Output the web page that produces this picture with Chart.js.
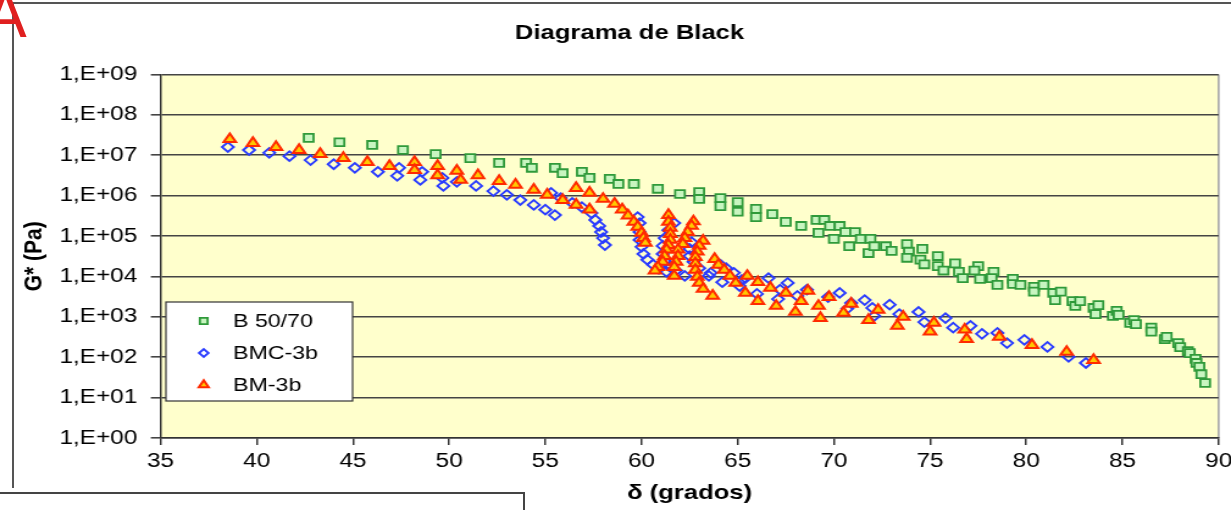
<!DOCTYPE html>
<html lang="es">
<head>
<meta charset="UTF-8">
<title>Diagrama de Black</title>
<script src="https://cdn.jsdelivr.net/npm/chart.js"></script>
<style>
    html, body { margin: 0; padding: 0; background: #fff; }
    body { width: 1231px; height: 510px; overflow: hidden; position: relative; }
    #blackChart { position: absolute; left: 0; top: 0; transform: scaleX(1.22); transform-origin: 0 0; }
    .frame-top { position: absolute; left: 12px; top: 2px; width: 1219px; height: 2px; background: #555; }
    .frame-left { position: absolute; left: 12px; top: 2px; width: 2px; height: 486px; background: #555; }
    .frame-box { position: absolute; left: -2px; top: 492px; width: 525px; height: 40px; border: 2px solid #444; border-left: none; }
    .mark-a { position: absolute; left: -16px; top: -17px; color: #e02020; font: 64px "Liberation Sans", Arial, sans-serif; line-height: 1; }
</style>
</head>
<body>
    <div class="frame-top"></div>
    <div class="frame-left"></div>
    <div class="frame-box"></div>
    <div class="mark-a">A</div>
    <canvas id="blackChart" width="1014" height="510"></canvas>

<script>
    // δ (grados) and G* (Pa)
    const b5070X = [42.7, 44.3, 46.0, 47.6, 49.3, 51.1, 52.6, 54.0, 54.3, 55.5,
        55.9, 56.9, 57.3, 58.35, 58.8, 59.6, 60.85, 62.0, 63.0, 63.0,
        64.1, 64.1, 65.0, 65.0, 65.95, 65.95, 66.8, 67.5, 68.3, 69.1,
        69.5, 69.2, 69.8, 70.3, 70.0, 70.6, 70.8, 71.1, 71.4, 71.8,
        71.9, 72.1, 72.7, 73.0, 73.8, 73.9, 73.8, 74.6, 74.5, 74.7,
        75.4, 75.4, 75.7, 76.3, 76.5, 76.7, 77.5, 77.3, 77.6, 78.3,
        78.2, 78.5, 79.3, 79.3, 79.7, 80.4, 80.4, 80.9, 81.4, 81.5,
        81.8, 82.4, 82.55, 82.8, 83.5, 83.75, 83.6, 84.5, 84.7, 84.8,
        85.4, 85.6, 85.7, 86.5, 86.5, 87.2, 87.3, 87.9, 88.0, 88.4,
        88.5, 88.8, 88.85, 89.0, 89.1, 89.3];
    const b5070G = [2.7e7, 2.1e7, 1.8e7, 1.35e7, 1.07e7, 8.5e6, 6.5e6, 6.5e6, 4.9e6, 4.9e6,
        3.6e6, 3.9e6, 2.75e6, 2.6e6, 1.95e6, 1.95e6, 1.48e6, 1.1e6, 1.23e6, 8.3e5,
        8.7e5, 5.5e5, 6.9e5, 4.0e5, 4.7e5, 2.95e5, 3.5e5, 2.24e5, 1.78e5, 2.5e5,
        2.5e5, 1.2e5, 1.78e5, 1.78e5, 8.5e4, 1.26e5, 5.6e4, 1.26e5, 8.5e4, 3.8e4,
        8.5e4, 5.6e4, 5.6e4, 4.3e4, 6.3e4, 4.1e4, 2.9e4, 4.8e4, 2.6e4, 2.0e4,
        3.2e4, 1.8e4, 1.4e4, 2.1e4, 1.3e4, 9.1e3, 1.8e4, 1.4e4, 8.7e3, 1.3e4,
        9.1e3, 6.2e3, 8.7e3, 6.5e3, 6.2e3, 5.5e3, 4.2e3, 6.2e3, 3.9e3, 2.6e3,
        4.2e3, 2.45e3, 1.86e3, 2.45e3, 1.66e3, 1.95e3, 1.17e3, 1.05e3, 1.41e3, 1.12e3,
        710, 830, 660, 540, 430, 280, 320, 224, 178, 141,
        126, 91, 72, 58, 38, 23];

    const bmcX = [38.5, 39.6, 40.65, 41.7, 42.8, 44.0, 45.1, 46.3, 47.4, 47.3,
        48.6, 48.5, 49.65, 49.7, 50.4, 51.4, 52.3, 53.0, 53.7, 54.4,
        55.0, 55.5, 55.3, 55.8, 56.4, 56.9, 57.4, 57.6, 57.8, 57.9,
        58.0, 58.1, 59.8, 59.9, 59.9, 59.9, 60.0, 60.1, 60.3, 60.6,
        60.9, 61.3, 61.7, 61.4, 61.2, 61.1, 61.1, 61.2, 61.5, 61.8,
        62.25, 62.6, 62.5, 62.5, 62.7, 63.0, 63.6, 64.1, 64.4, 64.8,
        65.2, 63.5, 64.2, 65.1, 65.4, 66.0, 66.6, 67.2, 67.6, 67.1,
        68.1, 68.6, 69.7, 70.3, 70.9, 70.7, 71.6, 72.0, 72.1, 72.9,
        73.4, 74.4, 74.7, 75.8, 76.2, 77.1, 77.7, 78.5, 79.0, 79.9,
        81.1, 82.2, 83.1];
    const bmcG = [1.6e7, 1.35e7, 1.15e7, 9.5e6, 7.6e6, 6.0e6, 4.9e6, 3.9e6, 4.9e6, 3.1e6,
        3.9e6, 2.45e6, 2.75e6, 1.74e6, 2.2e6, 1.74e6, 1.3e6, 1.05e6, 7.8e5, 5.9e5,
        4.5e5, 3.3e5, 1.17e6, 8.7e5, 6.6e5, 5.2e5, 3.7e5, 2.5e5, 1.78e5, 1.26e5,
        8.9e4, 6.0e4, 2.95e5, 2.1e5, 1.26e5, 8.0e4, 5.4e4, 3.6e4, 2.6e4, 1.95e4,
        1.55e4, 1.3e4, 2.1e5, 1.4e5, 8.9e4, 5.7e4, 3.6e4, 2.4e4, 1.7e4, 1.4e4,
        1.03e4, 7.1e4, 4.8e4, 3.2e4, 2.3e4, 1.6e4, 1.23e4, 1.95e4, 1.6e4, 1.23e4,
        8.1e3, 1.03e4, 7.2e3, 5.8e3, 9.1e3, 3.7e3, 9.1e3, 4.7e3, 6.9e3, 2.75e3,
        3.3e3, 4.7e3, 3.1e3, 3.9e3, 2.2e3, 1.6e3, 2.6e3, 1.66e3, 1.05e3, 2.0e3,
        1.17e3, 1.32e3, 740, 930, 540, 600, 380, 400, 224, 270,
        180, 102, 72];

    const bmX = [38.6, 39.8, 41.0, 42.2, 43.3, 44.5, 45.75, 46.9, 48.2, 48.2,
        49.4, 49.4, 50.4, 50.6, 51.5, 52.6, 53.45, 54.4, 55.1, 55.9,
        56.6, 57.3, 56.6, 57.3, 58.0, 58.6, 59.0, 59.3, 59.6, 59.8,
        60.0, 60.1, 60.2, 61.4, 61.4, 61.5, 61.5, 61.5, 61.4, 61.3,
        61.2, 61.1, 60.85, 60.7, 62.7, 62.6, 62.4, 62.25, 62.15, 61.9,
        61.9, 61.8, 61.7, 61.7, 63.2, 63.0, 62.9, 62.8, 62.8, 62.8,
        62.9, 63.0, 63.2, 63.7, 63.8, 64.0, 64.3, 64.6, 64.9, 65.4,
        65.5, 66.05, 66.05, 66.7, 67.0, 67.5, 68.0, 68.3, 68.65, 69.2,
        69.3, 69.75, 70.5, 70.9, 71.8, 72.3, 73.3, 73.6, 75.0, 75.2,
        76.8, 76.9, 78.6, 80.3, 82.1, 83.5];
    const bmG = [2.5e7, 2.0e7, 1.6e7, 1.35e7, 1.07e7, 8.5e6, 6.8e6, 5.4e6, 6.8e6, 4.3e6,
        5.4e6, 3.2e6, 4.1e6, 2.45e6, 3.2e6, 2.3e6, 1.85e6, 1.4e6, 1.05e6, 7.8e5,
        5.9e5, 4.5e5, 1.55e6, 1.17e6, 8.3e5, 6.3e5, 4.5e5, 3.2e5, 2.24e5, 1.7e5,
        1.2e5, 8.9e4, 6.8e4, 3.3e5, 2.24e5, 1.6e5, 1.12e5, 8.0e4, 6.0e4, 4.6e4,
        3.2e4, 2.3e4, 1.7e4, 1.4e4, 2.3e5, 1.78e5, 1.26e5, 8.9e4, 6.3e4, 4.6e4,
        3.2e4, 2.3e4, 1.7e4, 1.03e4, 7.6e4, 5.7e4, 4.1e4, 3.0e4, 2.1e4, 1.45e4,
        9.8e3, 6.9e3, 4.9e3, 3.3e3, 2.7e4, 1.95e4, 1.45e4, 1.03e4, 6.9e3, 3.9e3,
        1.03e4, 7.2e3, 2.45e3, 5.2e3, 1.86e3, 3.9e3, 1.32e3, 2.45e3, 4.4e3, 1.86e3,
        930, 3.1e3, 1.26e3, 2.1e3, 830, 1.48e3, 600, 1.0e3, 430, 710,
        480, 280, 320, 200, 135, 85];

    const seriesNames = ['B 50/70', 'BMC-3b', 'BM-3b'];
    const yTickValues = [1, 1e1, 1e2, 1e3, 1e4, 1e5, 1e6, 1e7, 1e8, 1e9];
    const yTickLabels = ['1,E+00', '1,E+01', '1,E+02', '1,E+03', '1,E+04', '1,E+05', '1,E+06', '1,E+07', '1,E+08', '1,E+09'];
    const chartTitle = 'Diagrama de Black';

    const FONT = '"Liberation Sans", Arial, sans-serif';

    function toPoints(xs, ys) {
        return xs.map((x, i) => ({ x: x, y: ys[i] }));
    }

    const plotBackground = {
        id: 'plotBackground',
        beforeDraw(chart) {
            const { ctx, chartArea: a } = chart;
            ctx.save();
            ctx.fillStyle = '#ffffcc';
            ctx.fillRect(a.left, a.top, a.right - a.left, a.bottom - a.top);
            ctx.strokeStyle = '#a0a0a0';
            ctx.lineWidth = 1.5;
            ctx.beginPath();
            ctx.moveTo(a.right, a.top);
            ctx.lineTo(a.right, a.bottom);
            ctx.stroke();
            ctx.restore();
        }
    };

    const titleAndLegend = {
        id: 'titleAndLegend',
        afterDraw(chart) {
            const ctx = chart.ctx;
            ctx.save();
            ctx.fillStyle = '#000';
            ctx.font = 'bold 21px ' + FONT;
            ctx.textAlign = 'center';
            ctx.textBaseline = 'middle';
            ctx.fillText(chartTitle, 516, 33);

            // legend box, lower left inside the plot
            ctx.fillStyle = '#fff';
            ctx.fillRect(136, 302, 153, 99);
            ctx.strokeStyle = '#333';
            ctx.lineWidth = 1.2;
            ctx.strokeRect(136, 302, 153, 99);

            const rows = [321, 353, 385];
            ctx.font = '19px ' + FONT;
            ctx.textAlign = 'left';
            chart.data.datasets.forEach((ds, i) => {
                ctx.fillStyle = ds.backgroundColor;
                ctx.strokeStyle = ds.borderColor;
                ctx.lineWidth = ds.borderWidth;
                Chart.helpers.drawPoint(ctx, {
                    pointStyle: ds.pointStyle, rotation: 0,
                    radius: ds.pointRadius * 0.8, borderWidth: ds.borderWidth
                }, 167, rows[i]);
                ctx.fillStyle = '#000';
                ctx.fillText(ds.label, 191, rows[i] + 1);
            });
            ctx.restore();
        }
    };

    const ctx = document.getElementById('blackChart').getContext('2d');
    const blackChart = new Chart(ctx, {
        type: 'scatter',
        data: {
            datasets: [
                {
                    label: seriesNames[0],
                    data: toPoints(b5070X, b5070G),
                    pointStyle: 'rect',
                    pointRadius: 5.6,
                    borderColor: '#2f9a3a',
                    backgroundColor: '#c8f5c0',
                    borderWidth: 1.8,
                    order: 2
                },
                {
                    label: seriesNames[1],
                    data: toPoints(bmcX, bmcG),
                    pointStyle: 'rectRot',
                    pointRadius: 4.8,
                    borderColor: '#2a3cff',
                    backgroundColor: 'rgba(255,255,255,0)',
                    borderWidth: 1.9,
                    order: 1
                },
                {
                    label: seriesNames[2],
                    data: toPoints(bmX, bmG),
                    pointStyle: 'triangle',
                    pointRadius: 5.8,
                    borderColor: '#ff2a00',
                    backgroundColor: '#ffc800',
                    borderWidth: 2,
                    order: 0
                }
            ]
        },
        options: {
            responsive: false,
            animation: false,
            layout: { padding: { left: 0, right: 11.5, top: 74.5, bottom: 0 } },
            plugins: {
                legend: { display: false },
                title: { display: false },
                tooltip: { enabled: false }
            },
            scales: {
                x: {
                    type: 'linear',
                    min: 35,
                    max: 90,
                    afterFit: s => { s.height = 72; },
                    ticks: { stepSize: 5, color: '#000', padding: 4, font: { family: FONT, size: 20 } },
                    grid: { drawOnChartArea: false, drawTicks: true, tickLength: 7, color: '#333', lineWidth: 1.5 },
                    border: { color: '#333', width: 1.5 },
                    title: {
                        display: true, text: 'δ (grados)', color: '#000',
                        font: { family: FONT, size: 21, weight: 'bold' },
                        padding: { top: 0, bottom: 4 }
                    }
                },
                y: {
                    type: 'logarithmic',
                    min: 1,
                    max: 1e9,
                    afterFit: s => { s.width = 131.6; },
                    afterBuildTicks: s => { s.ticks = yTickValues.map(v => ({ value: v })); },
                    ticks: {
                        autoSkip: false, color: '#000', padding: 11,
                        font: { family: FONT, size: 20 },
                        callback: (v, i) => yTickLabels[i]
                    },
                    grid: { color: '#444', lineWidth: 1.6, drawTicks: true, tickLength: 8 },
                    border: { color: '#333', width: 1.5 },
                    title: {
                        display: true, text: 'G* (Pa)', color: '#000',
                        font: { family: FONT, size: 21, weight: 'bold' },
                        padding: { top: 16, bottom: 0 }
                    }
                }
            }
        },
        plugins: [plotBackground, titleAndLegend]
    });
</script>
</body>
</html>
